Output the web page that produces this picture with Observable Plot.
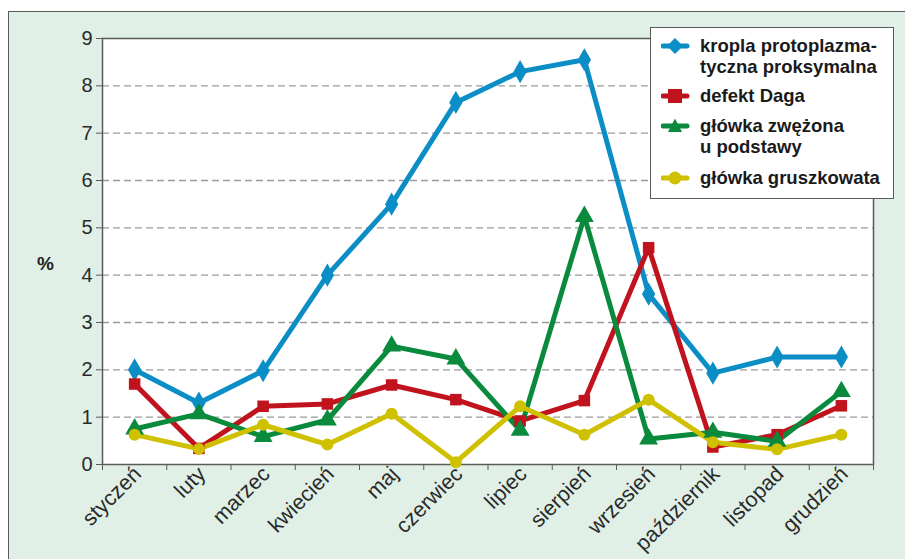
<!DOCTYPE html>
<html>
<head>
<meta charset="utf-8">
<script src="https://cdn.jsdelivr.net/npm/d3@7"></script>
<script src="https://cdn.jsdelivr.net/npm/@observablehq/plot@0.6"></script>
<style>
  html, body { margin: 0; padding: 0; background: #ffffff; }
  #wrap { position: relative; width: 905px; height: 559px; overflow: hidden; font-family: "Liberation Sans", Arial, sans-serif; }
  #panel { position: absolute; left: 8px; top: 11px; width: 920px; height: 600px; background: #e0f0e6;
           border-left: 1.5px solid #5a5a5a; border-top: 1.5px solid #5a5a5a; }
  #chart { position: absolute; left: 0; top: 0; }
  #unit { position: absolute; left: 37px; top: 253px; font-size: 19px; font-weight: bold; color: #222; }
  #legend { position: absolute; left: 650px; top: 27px; width: 244px; height: 172px; box-sizing: border-box;
            background: #fff; border: 1.5px solid #5a5a5a; }
  .entry { position: absolute; left: 10px; font-size: 18.5px; font-weight: bold; line-height: 20.5px; color: #1a1a1a; white-space: nowrap; }
  .entry svg { position: absolute; left: 0; }
  .entry span { position: absolute; left: 39px; top: 0; }
</style>
</head>
<body>
<div id="wrap">
  <div id="panel"></div>
  <div id="chart"></div>
  <div id="unit">%</div>
  <div id="legend"></div>
</div>
<script>
// Months on the horizontal axis
const months = ["styczeń", "luty", "marzec", "kwiecień", "maj", "czerwiec",
                "lipiec", "sierpień", "wrzesień", "październik", "listopad", "grudzień"];

// Share of each sperm-head defect per month (%)
const kropla = [2.0, 1.3, 1.98, 4.0, 5.5, 7.65, 8.3, 8.55, 3.6, 1.93, 2.27, 2.27];
const defektDaga = [1.7, 0.34, 1.23, 1.28, 1.68, 1.37, 0.92, 1.35, 4.58, 0.37, 0.63, 1.24];
const zwezona = [0.75, 1.07, 0.59, 0.94, 2.5, 2.23, 0.72, 5.24, 0.54, 0.68, 0.49, 1.54];
const gruszkowata = [0.63, 0.33, 0.84, 0.42, 1.07, 0.05, 1.23, 0.63, 1.37, 0.47, 0.32, 0.63];

const yTicks = [0, 1, 2, 3, 4, 5, 6, 7, 8, 9];
const gridTicks = [1, 2, 3, 4, 5, 6, 7, 8];

const series = [
  {name: "kropla", label: ["kropla protoplazma-", "tyczna proksymalna"], values: kropla, color: "#0b8dc6", symbol: "diamond", r: 7},
  {name: "daga", label: ["defekt Daga"], values: defektDaga, color: "#c0131d", symbol: "square", r: 6.5},
  {name: "zwezona", label: ["główka zwężona", "u podstawy"], values: zwezona, color: "#0a8a3d", symbol: "triangle", r: 7},
  {name: "gruszkowata", label: ["główka gruszkowata"], values: gruszkowata, color: "#cfc000", symbol: "circle", r: 6}
];

// Each month sits in the middle of its unit-wide slot on the x scale
const rows = series.flatMap(s => s.values.map((v, i) => ({series: s.name, pos: i + 0.5, value: v})));
const centers = months.map((m, i) => i + 0.5);
const bounds = d3.range(0, 13);

const marks = [
  Plot.frame({fill: "white", stroke: null}),
  Plot.gridY(gridTicks, {stroke: "#9a9a9a", strokeOpacity: 1, strokeWidth: 1.3, strokeDasharray: "7,4"}),
  Plot.frame({stroke: "#5a5a5a", strokeWidth: 1.5})
];
for (const s of series) {
  const data = rows.filter(d => d.series === s.name);
  marks.push(Plot.line(data, {x: "pos", y: "value", stroke: s.color, strokeWidth: 5, strokeLinejoin: "round"}));
}
for (const s of series) {
  const data = rows.filter(d => d.series === s.name);
  marks.push(Plot.dot(data, {x: "pos", y: "value", fill: s.color, stroke: null, symbol: s.symbol, r: s.r}));
}
marks.push(
  Plot.axisY(yTicks, {tickSize: 6, tickPadding: 4, fontSize: 20, stroke: "#5a5a5a", fill: "#2a2a2a", label: null}),
  Plot.axisX(bounds, {tickSize: 6, text: null, stroke: "#5a5a5a", label: null}),
  Plot.axisX(centers, {tickSize: 0, tickPadding: 6, tickRotate: -45, fontSize: 21.5, dx: 3, fill: "#2a2a2a", label: null,
                       tickFormat: d => months[Math.round(d - 0.5)]})
);

const chart = Plot.plot({
  width: 905,
  height: 559,
  marginLeft: 102,
  marginRight: 32,
  marginTop: 38,
  marginBottom: 95,
  style: {background: "transparent", fontFamily: "Liberation Sans, Arial, sans-serif", overflow: "visible"},
  x: {type: "linear", domain: [0, 12], axis: null},
  y: {type: "linear", domain: [0, 9], axis: null},
  marks
});
document.getElementById("chart").appendChild(chart);

// Legend entries: a short line with the series marker, then the name
const legendTops = [8, 58, 88, 140];
const markerPaths = {
  diamond: "M0,-8 L8,0 L0,8 L-8,0 Z",
  square: "M-7,-7 H7 V7 H-7 Z",
  triangle: "M0,-7.5 L7,6 L-7,6 Z",
  circle: null
};
const legend = document.getElementById("legend");
series.forEach((s, i) => {
  const entry = document.createElement("div");
  entry.className = "entry";
  entry.style.top = legendTops[i] + "px";
  const path = markerPaths[s.symbol];
  const glyph = path
    ? `<path d="${path}" transform="translate(14,10)" fill="${s.color}"/>`
    : `<circle cx="14" cy="10" r="6.5" fill="${s.color}"/>`;
  entry.innerHTML =
    `<svg width="30" height="20" style="top:0px"><line x1="2" x2="26" y1="10" y2="10" stroke="${s.color}" stroke-width="5" stroke-linecap="round"/>${glyph}</svg>` +
    `<span>${s.label.join("<br>")}</span>`;
  legend.appendChild(entry);
});
</script>
</body>
</html>
